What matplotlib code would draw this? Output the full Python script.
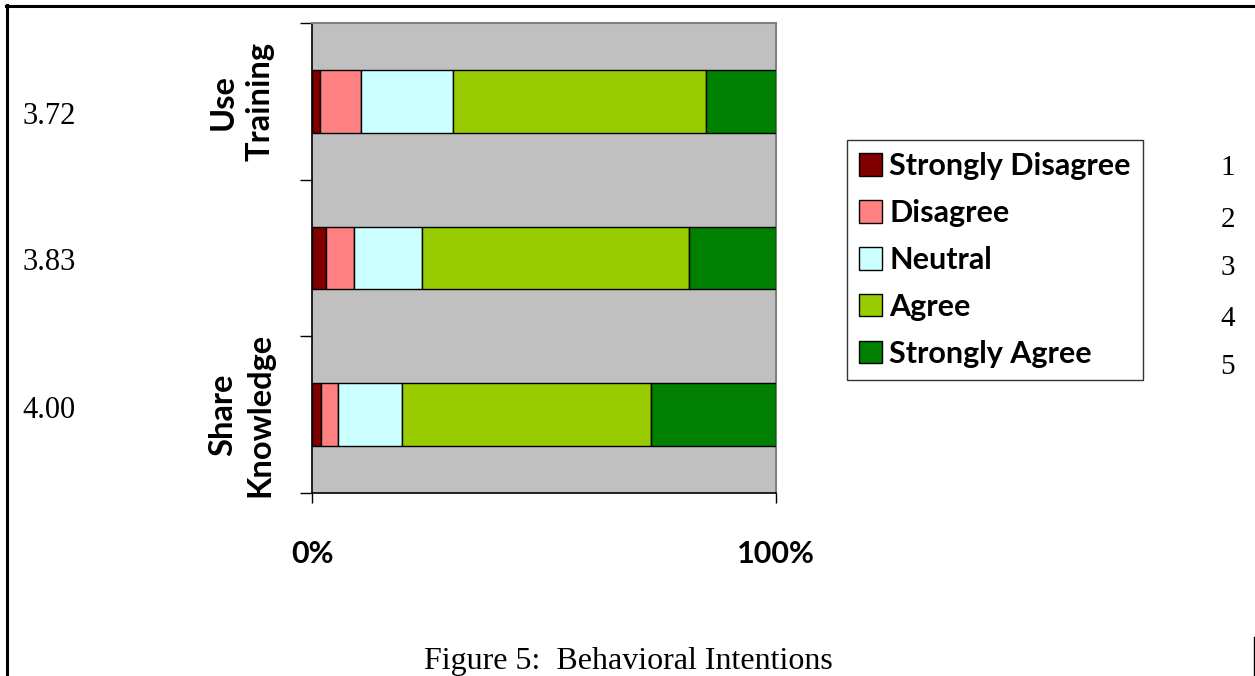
import matplotlib
matplotlib.use("Agg")
import matplotlib.pyplot as plt
from matplotlib.lines import Line2D
import numpy as np

categories = ["Use\nTraining", "", "Share\nKnowledge"]
means = ["3.72", "3.83", "4.00"]
levels = ["Strongly Disagree", "Disagree", "Neutral", "Agree", "Strongly Agree"]
level_codes = ["1", "2", "3", "4", "5"]
strongly_disagree = [1.8, 3.0, 1.9]
disagree = [8.7, 6.0, 3.7]
neutral = [19.9, 14.8, 13.7]
agree = [54.6, 57.4, 53.8]
strongly_agree = [15.0, 18.8, 26.9]
colors = ["#800000", "#FF8080", "#CCFFFF", "#99CC00", "#008000"]
x_tick_labels = ["0%", "100%"]
caption = "Figure 5:  Behavioral Intentions"

W, H = 1255, 676
fig = plt.figure(figsize=(W / 100, H / 100), dpi=100)
fig.patch.set_facecolor("white")

def fx(px):
    return px / W

def fy(py):
    return 1 - py / H

ax = fig.add_axes([fx(312), fy(493), fx(776) - fx(312), (493 - 23.3) / H])
ax.set_facecolor("#C0C0C0")

series = [strongly_disagree, disagree, neutral, agree, strongly_agree]
y = np.arange(len(categories))
left = np.zeros(len(categories))
for name, vals, c in zip(levels, series, colors):
    vals = np.array(vals)
    ax.barh(y, vals, left=left, height=0.4, color=c, edgecolor="black",
            linewidth=1.0, label=name, zorder=3)
    left += vals

ax.set_xlim(0, 100)
ax.set_ylim(2.5, -0.5)

bold_font = "Lato"
ax.set_xticks([0, 100])
ax.set_xticklabels(x_tick_labels, fontfamily=bold_font, fontweight="bold", fontsize=22)
ax.tick_params(axis="x", direction="out", length=7.5, width=1, pad=26)

ax.set_yticks([-0.5, 0.5, 1.5, 2.5])
ax.set_yticklabels([])
ax.tick_params(axis="y", which="major", direction="out", length=8.5, width=1)
ax.set_yticks(y, minor=True)
ax.set_yticklabels(categories, minor=True, rotation=90, va="center", ha="center",
                   fontfamily=bold_font, fontweight="bold", fontsize=23.5,
                   multialignment="center", linespacing=1.32)
ax.tick_params(axis="y", which="minor", length=0, pad=51)

for s in ["top", "right"]:
    ax.spines[s].set_color("#808080")
    ax.spines[s].set_linewidth(1.5)
for s in ["bottom", "left"]:
    ax.spines[s].set_color("black")
    ax.spines[s].set_linewidth(1.2)

# mean values on the left
mean_y = [116, 263, 410]
for m, py in zip(means, mean_y):
    fig.text(fx(22), fy(py), m, fontfamily="Liberation Serif", fontsize=22,
             ha="left", va="center")

# legend
leg = ax.legend(loc="upper left", bbox_to_anchor=(fx(847), fy(140)),
                bbox_transform=fig.transFigure, frameon=True, fancybox=False,
                prop={"family": bold_font, "weight": "bold", "size": 22},
                handlelength=0.74, handleheight=0.74, handletextpad=0.25,
                labelspacing=0.62, borderpad=0.4, borderaxespad=0)
leg.get_frame().set_edgecolor("black")
leg.get_frame().set_linewidth(1.0)

code_y = [168, 220, 268, 319, 367]
for c, py in zip(level_codes, code_y):
    fig.text(fx(1228), fy(py), c, fontfamily="Liberation Serif", fontsize=21,
             ha="center", va="center")

fig.text(fx(628), fy(662), caption, fontfamily="Liberation Serif", fontsize=23,
         ha="center", va="center")

# page frame
fig.add_artist(Line2D([fx(6), fx(1255)], [fy(5.5), fy(5.5)], color="black", linewidth=2.2,
                      transform=fig.transFigure))
fig.add_artist(Line2D([fx(7), fx(7)], [fy(5), fy(676)], color="black", linewidth=2.2,
                      transform=fig.transFigure))
fig.add_artist(Line2D([fx(1254), fx(1254)], [fy(637), fy(676)], color="black", linewidth=1,
                      transform=fig.transFigure))

fig.savefig("out.png", dpi=100)
